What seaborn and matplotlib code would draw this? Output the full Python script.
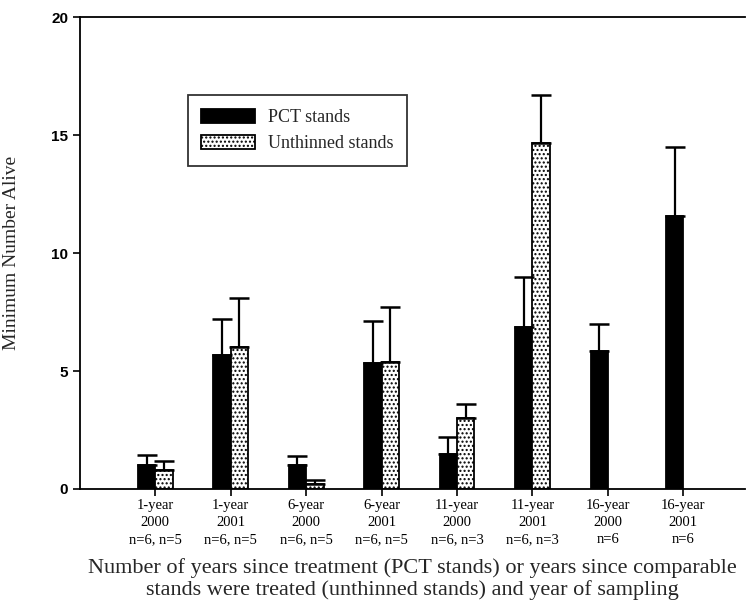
import matplotlib
matplotlib.use("Agg")
import matplotlib.pyplot as plt
import seaborn as sns
import pandas as pd
import numpy as np

# Group labels (years since treatment / sampling year / sample sizes)
groups = ["1-year\n2000\nn=6, n=5", "1-year\n2001\nn=6, n=5",
          "6-year\n2000\nn=6, n=5", "6-year\n2001\nn=6, n=5",
          "11-year\n2000\nn=6, n=3", "11-year\n2001\nn=6, n=3",
          "16-year\n2000\nn=6", "16-year\n2001\nn=6"]

# Mean minimum number alive and standard error
pct_mean = [1.0, 5.7, 1.0, 5.35, 1.5, 6.85, 5.85, 11.55]
pct_se = [0.45, 1.5, 0.4, 1.75, 0.7, 2.15, 1.15, 2.95]
unthinned_mean = [0.8, 6.0, 0.2, 5.4, 3.0, 14.65]
unthinned_se = [0.4, 2.1, 0.2, 2.3, 0.6, 2.05]

series = ["PCT stands", "Unthinned stands"]

rows = []
for g, m in zip(groups, pct_mean):
    rows.append({"group": g, "stand": series[0], "value": m})
for g, m in zip(groups, unthinned_mean):
    rows.append({"group": g, "stand": series[1], "value": m})
df = pd.DataFrame(rows)

sns.set_style("ticks")
plt.rcParams["font.family"] = ["Liberation Serif", "DejaVu Serif"]

fig = plt.figure(figsize=(7.46, 6.12), dpi=100)
ax = fig.add_axes([0.107, 0.201, 0.892, 0.771])

bar_w = 0.46
sns.barplot(data=df, x="group", y="value", hue="stand", order=groups,
            hue_order=series, palette=["black", "white"], width=bar_w,
            dodge=True, errorbar=None, edgecolor="black", linewidth=1.3,
            saturation=1, ax=ax)

# Stipple the unthinned bars
for p in ax.patches:
    fc = p.get_facecolor()
    if fc[0] > 0.5 and p.get_height() > 0:
        p.set_hatch("....")

# One-sided (upper) standard-error bars
off = bar_w / 4
x_idx = np.arange(len(groups))
ax.errorbar(x_idx - off, pct_mean, yerr=[np.zeros(len(pct_se)), pct_se],
            fmt="none", ecolor="black", elinewidth=1.6, capsize=7, capthick=1.8)
xu = np.arange(len(unthinned_mean))
ax.errorbar(xu + off, unthinned_mean,
            yerr=[np.zeros(len(unthinned_se)), unthinned_se],
            fmt="none", ecolor="black", elinewidth=1.6, capsize=7, capthick=1.8)

ax.set_xlim(-1.0, 7.82)
ax.set_ylim(0, 20)
ax.set_yticks([0, 5, 10, 15, 20])
ax.set_yticklabels(["0", "5", "10", "15", "20"],
                   family=["Liberation Sans", "DejaVu Sans"], fontsize=11,
                   fontweight="bold")
ax.set_xticks(x_idx)
ax.set_xticklabels(groups, fontsize=10.5, linespacing=1.4)
ax.tick_params(axis="both", direction="out", length=5, width=1.2, colors="black")
ax.tick_params(axis="x", pad=2)

for s in ["left", "bottom", "top"]:
    ax.spines[s].set_visible(True)
    ax.spines[s].set_linewidth(1.3)
    ax.spines[s].set_color("black")
ax.spines["right"].set_visible(False)

ax.set_ylabel("Minimum Number Alive", fontsize=14, labelpad=22)
ax.set_xlabel("Number of years since treatment (PCT stands) or years since comparable\n"
              "stands were treated (unthinned stands) and year of sampling",
              fontsize=16, labelpad=9, linespacing=1.1)

leg = ax.legend(loc="upper left", bbox_to_anchor=(0.162, 0.835), fontsize=13,
                frameon=True, fancybox=False, edgecolor="black",
                handlelength=3.0, handleheight=0.85, borderpad=0.75,
                labelspacing=0.5, borderaxespad=0, handletextpad=0.7)
leg.get_frame().set_linewidth(1.3)
for h in leg.legend_handles:
    h.set_edgecolor("black")
    if h.get_facecolor()[0] > 0.5:
        h.set_hatch("....")

fig.savefig("out.png", dpi=100)
